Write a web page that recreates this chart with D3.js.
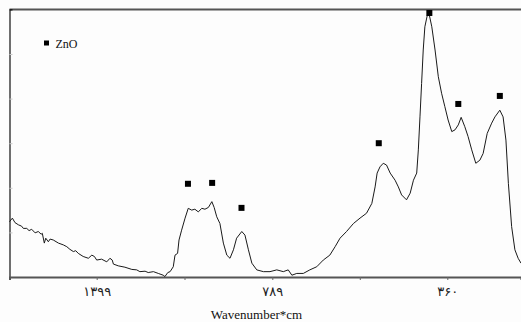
<!DOCTYPE html>
<html>
<head>
<meta charset="utf-8">
<script src="https://cdn.jsdelivr.net/npm/d3@7"></script>
<style>
  html, body { margin: 0; padding: 0; background: #fdfdfd; }
  svg { display: block; }
</style>
</head>
<body>
<svg id="chart" width="521" height="322"></svg>
<script>
// IR spectrum of ZnO: wavenumber (cm^-1) vs. relative intensity
const wavenumber = [
  1702, 1692, 1683, 1671, 1660, 1654, 1642, 1634, 1625, 1613,
  1602, 1592, 1588, 1581, 1576, 1567, 1561, 1550, 1532, 1515,
  1503, 1492, 1480, 1472, 1463, 1446, 1428, 1416, 1407, 1399,
  1382, 1364, 1353, 1345, 1341, 1324, 1301, 1277, 1260, 1249,
  1231, 1220, 1202, 1185, 1168, 1162, 1152, 1144, 1133, 1127,
  1118, 1113,
  1104, 1092, 1081, 1069, 1058, 1046,
  1034, 1023, 1011, 999, 991, 982, 971, 959, 947, 936,
  924, 913, 895, 884, 872, 860, 843, 820, 797, 778,
  762, 750, 741, 729, 713, 697, 680, 664, 648, 635,
  623, 607, 590, 574, 558, 545, 537, 532, 525, 517,
  509, 500, 488, 480, 472, 460, 451, 443, 435, 431,
  427, 423, 419, 415, 409, 404, 398, 390, 382, 374,
  366, 358, 349, 341, 333, 326, 317, 309, 300, 290,
  280, 272, 262, 251, 243, 231, 223, 216, 210, 202,
  194, 186, 179
];
const intensity = [
  1.24, 1.32, 1.22, 1.17, 1.14, 1.09, 1.09, 1.04, 1.07, 0.99,
  1.02, 0.96, 0.98, 0.76, 0.87, 0.79, 0.85, 0.83, 0.76, 0.72,
  0.68, 0.62, 0.57, 0.59, 0.53, 0.46, 0.42, 0.49, 0.46, 0.38,
  0.40, 0.34, 0.42, 0.38, 0.29, 0.25, 0.22, 0.17, 0.16, 0.12,
  0.13, 0.10, 0.12, 0.08, 0.04, 0.01, 0.10, 0.12, 0.23, 0.49,
  0.53, 0.83,
  1.05, 1.32, 1.54, 1.50, 1.52, 1.46,
  1.54, 1.52, 1.56, 1.69, 1.56, 1.35, 1.20, 0.76, 0.49, 0.42,
  0.61, 0.87, 1.02, 0.94, 0.61, 0.31, 0.16, 0.12, 0.12, 0.16,
  0.12, 0.16, 0.04, 0.08, 0.08, 0.16, 0.23, 0.38, 0.49, 0.68,
  0.87, 1.02, 1.20, 1.32, 1.43, 1.65, 2.02, 2.33, 2.47, 2.55,
  2.51, 2.33, 2.17, 2.02, 1.84, 1.73, 1.88, 2.17, 2.33, 2.85,
  3.59, 4.34, 5.09, 5.61, 5.87, 5.87, 5.61, 5.09, 4.49, 4.12,
  3.82, 3.52, 3.26, 3.30, 3.41, 3.58, 3.37, 3.15, 2.85, 2.55,
  2.62, 2.77, 3.22, 3.45, 3.59, 3.74, 3.59, 3.07, 2.10, 1.13,
  0.61, 0.42, 0.31
];

// ZnO band markers
const markerWavenumber = [1082, 998, 896, 528, 404, 333, 231];
const markerIntensity  = [2.09, 2.11, 1.55, 3.00, 5.92, 3.88, 4.06];

// Axis ticks (cm^-1); only some carry labels
const xTicks = [1399, 1094, 789, 574.5, 360];
const xTickLabeled = [1399, 789, 360];
const yTicks = [1, 2, 3, 4, 5];

const seriesName = "ZnO";
const xTitle = "Wavenumber*cm";

const spectrum = wavenumber.map((w, i) => ({ w, v: intensity[i] }));
const markers = markerWavenumber.map((w, i) => ({ w, v: markerIntensity[i] }));

const plotLeft = 9.5, plotRight = 521, plotTop = 9.4, plotBottom = 277;

// piecewise-linear wavenumber axis
const x = d3.scaleLinear()
  .domain([1702, 1399, 789, 360, 179])
  .range([plotLeft, 96.7, 272.3, 447.3, plotRight]);
const y = d3.scaleLinear().domain([0, 6]).range([plotBottom, plotTop]);

const persianDigits = "۰۱۲۳۴۵۶۷۸۹";
const toPersian = n => String(n).replace(/\d/g, d => persianDigits[d]);

const svg = d3.select("#chart");

// top frame line
svg.append("line")
  .attr("x1", plotLeft).attr("x2", plotRight)
  .attr("y1", plotTop).attr("y2", plotTop)
  .attr("stroke", "#555").attr("stroke-width", 2);

// left axis (ticks only, no labels)
const yAxis = svg.append("g")
  .attr("transform", `translate(${plotLeft},0)`)
  .call(d3.axisLeft(y).tickValues(yTicks).tickSize(-3).tickFormat(""));
yAxis.select(".domain").attr("stroke", "#111").attr("stroke-width", 1.2);
yAxis.selectAll(".tick line").attr("stroke", "#c8c8c8");

// bottom axis
const xAxis = svg.append("g")
  .attr("transform", `translate(0,${plotBottom})`)
  .call(d3.axisBottom(x).tickValues(xTicks).tickSize(3).tickPadding(7)
    .tickFormat(d => xTickLabeled.includes(d) ? toPersian(d) : ""));
xAxis.select(".domain").attr("stroke", "#555").attr("stroke-width", 2);
xAxis.selectAll(".tick line").attr("stroke", "#666");
xAxis.selectAll(".tick text")
  .attr("font-family", "DejaVu Sans")
  .attr("font-size", 13)
  .attr("fill", "#222");

// spectrum trace
svg.append("path")
  .datum(spectrum)
  .attr("fill", "none")
  .attr("stroke", "#1a1a1a")
  .attr("stroke-width", 1)
  .attr("d", d3.line().x(d => x(d.w)).y(d => y(d.v)));

// band markers
const ms = 6;
svg.append("g").selectAll("rect")
  .data(markers)
  .join("rect")
  .attr("x", d => x(d.w) - ms / 2)
  .attr("y", d => y(d.v) - ms / 2)
  .attr("width", ms).attr("height", ms)
  .attr("fill", "#000");

// legend
svg.append("rect")
  .attr("x", 44).attr("y", 40.5).attr("width", 5).attr("height", 5)
  .attr("fill", "#000");
svg.append("text")
  .attr("x", 55.5).attr("y", 47.5)
  .attr("font-family", "Liberation Serif")
  .attr("font-size", 12)
  .attr("fill", "#111")
  .text(seriesName);

// x-axis title
svg.append("text")
  .attr("x", 256.5).attr("y", 319)
  .attr("text-anchor", "middle")
  .attr("font-family", "Liberation Serif")
  .attr("font-size", 13)
  .attr("fill", "#111")
  .text(xTitle);
</script>
</body>
</html>
